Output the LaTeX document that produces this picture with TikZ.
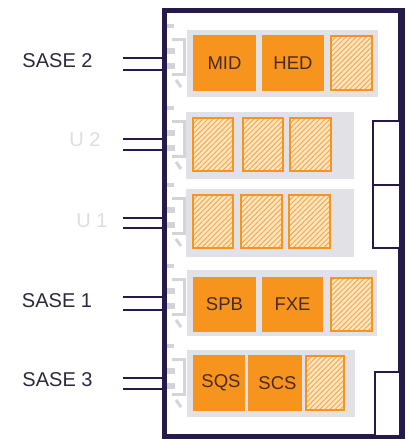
\documentclass[tikz,border=0pt]{standalone}
\usepackage{fontspec}
\setmainfont{Liberation Sans}
\usetikzlibrary{patterns.meta}
\definecolor{frameC}{RGB}{40,25,75}
\definecolor{orangeC}{RGB}{247,148,29}
\definecolor{lightO}{RGB}{253,230,195}
\definecolor{barC}{RGB}{226,226,230}
\definecolor{decoC}{RGB}{212,212,216}
\definecolor{txtC}{RGB}{45,40,60}
\definecolor{paleC}{RGB}{222,222,226}
\definecolor{lblC}{RGB}{75,42,35}
\tikzset{
  obox/.style={fill=orangeC, draw=none, inner sep=0pt, text=lblC, font=\fontsize{18.5}{18.5}\selectfont},
  hbox/.style={draw=orangeC, line width=2pt, inner sep=0pt,
     preaction={fill=lightO},
     pattern={Lines[angle=45,distance=3.6pt,line width=1pt]}, pattern color=orangeC!80},
  bar/.style={fill=barC, draw=none, inner sep=0pt},
  side/.style={draw=frameC, line width=2pt, inner sep=0pt, fill=white},
  feed/.style={draw=frameC, line width=2.8pt},
  lab/.style={inner sep=0pt, text=txtC, font=\fontsize{20}{20}\selectfont},
  plab/.style={inner sep=0pt, text=paleC, font=\fontsize{20}{20}\selectfont},
  deco/.style={draw=decoC, line width=3pt},
  decosq/.style={fill=decoC, draw=none}
}
\begin{document}
\begin{tikzpicture}[x=1pt,y=-1pt]
\useasboundingbox (0,0) rectangle (406,439);
% frame
\node[draw=frameC, line width=5pt, minimum width=235.5pt, minimum height=426pt, inner sep=0pt] (frame) at (282.25,223) {};
% right side rects
\node[side, minimum width=27pt, minimum height=64pt] (R1) at (386.5,153) {};
\node[side, minimum width=27pt, minimum height=63pt] (R2) at (386.5,216.5) {};
\node[side, minimum width=25pt, minimum height=64pt] (R3) at (387.5,404) {};
\draw[frameC, line width=5pt] (frame.north east) -- (frame.south east);
% gray bars
\node[bar, minimum width=191pt, minimum height=67pt] (r1) at (282.5,63.5) {};
\node[bar, minimum width=168pt, minimum height=67pt] (r2) at (270,145.5) {};
\node[bar, minimum width=168pt, minimum height=68pt] (r3) at (270,223) {};
\node[bar, minimum width=190pt, minimum height=66pt] (r4) at (282,303) {};
\node[bar, minimum width=168pt, minimum height=67pt] (r5) at (271,383.5) {};
% decorations (faint gray brackets)
\foreach \t in {30,112,189,270,350}{
  \draw[deco] (172,\t+9) -- (184,\t+9) -- (184,\t+44) -- (172,\t+44);
  \draw[deco] (176,\t+50) -- (181,\t+57);
  \fill[decoC] (167,\t-6) rectangle (174,\t-2);
  \fill[decoC] (167,\t+18) rectangle (175,\t+24);
  \fill[decoC] (167,\t+33) rectangle (175,\t+39);
}
% row 1
\node[obox, minimum width=63pt, minimum height=56pt] (MID) at (224.5,63) {MID\hspace{8pt}};
\node[obox, minimum width=62pt, minimum height=56pt] (HED) at (293,63) {HED\hspace{10pt}};
\node[hbox, minimum width=41pt, minimum height=54pt] (h1) at (351.5,63) {};
% row 2 (U2)
\node[hbox, minimum width=40pt, minimum height=53pt] (u2a) at (213,144.5) {};
\node[hbox, minimum width=40pt, minimum height=53pt] (u2b) at (263,144.5) {};
\node[hbox, minimum width=41pt, minimum height=53pt] (u2c) at (310.5,144.5) {};
% row 3 (U1)
\node[hbox, minimum width=40pt, minimum height=53pt] (u1a) at (213,221.5) {};
\node[hbox, minimum width=41pt, minimum height=53pt] (u1b) at (261.5,221.5) {};
\node[hbox, minimum width=41pt, minimum height=53pt] (u1c) at (309.5,221.5) {};
% row 4
\node[obox, minimum width=63pt, minimum height=55pt] (SPB) at (224.5,304.5) {SPB\hspace{8pt}};
\node[obox, minimum width=61pt, minimum height=55pt] (FXE) at (292.5,304.5) {FXE\hspace{8pt}};
\node[hbox, minimum width=41pt, minimum height=53pt] (h4) at (351.5,304.5) {};
% row 5
\node[obox, minimum width=52pt, minimum height=56pt] (SQS) at (219,383) {\hspace{4pt}SQS};
\node[obox, minimum width=54pt, minimum height=56pt] (SCS) at (275,383) {\hspace{5pt}SCS};
\node[hbox, minimum width=38pt, minimum height=54pt] (h5) at (325,383) {};
% feed lines
\foreach \n/\ya/\yb in {s2/58/70, u2/139/150, u1/218/228, s1/297/310, s3/378/389}{
  \coordinate (\n a) at (123,\ya);
  \coordinate (\n b) at (123,\yb);
  \draw[feed] (\n a) -- (\n a -| frame.west);
  \draw[feed] (\n b) -- (\n b -| frame.west);
}
% labels
\node[lab] (ls2) at (57.5,61) {SASE 2};
\node[plab] (lu2) at (85,140) {U 2};
\node[plab] (lu1) at (92,221) {U 1};
\node[lab] (ls1) at (57,301) {SASE 1};
\node[lab] (ls3) at (57.5,380) {SASE 3};
\end{tikzpicture}
\end{document}
